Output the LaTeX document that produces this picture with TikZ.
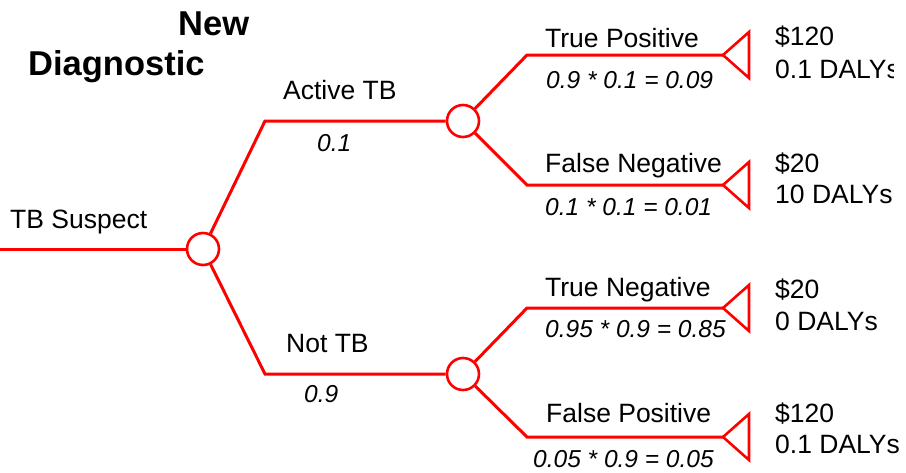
\documentclass[tikz,border=0pt]{standalone}
\usepackage{fontspec}
\setmainfont{Liberation Sans}
\begin{document}
\begin{tikzpicture}[x=1pt,y=-1pt,
  branch/.style={draw=red,line width=3pt,line join=miter},
  chance/.style={circle,draw=red,line width=2.6pt,fill=white,minimum size=32pt,inner sep=0pt},
  term/.style={draw=red,line width=2.6pt,line join=miter},
  lbl/.style={anchor=base west,inner sep=0pt,font=\fontsize{26.5}{30}\selectfont},
  prob/.style={anchor=base west,inner sep=0pt,font=\fontsize{24.5}{28}\selectfont\itshape},
  title/.style={anchor=base west,inner sep=0pt,font=\fontsize{34.5}{38}\selectfont\bfseries},
  outc/.style={anchor=base west,inner sep=0pt,font=\fontsize{26.5}{30}\selectfont}]
\useasboundingbox (0,0) rectangle (906,472);
% coordinates
\coordinate (start) at (0,249);
\coordinate (k1) at (265,121);
\coordinate (k2) at (265,374);
\coordinate (k3) at (527,55);
\coordinate (k4) at (527,185);
\coordinate (k5) at (527,308);
\coordinate (k6) at (527,437);
\coordinate (t1) at (723,55);
\coordinate (t2) at (723,185);
\coordinate (t3) at (723,308);
\coordinate (t4) at (723,437);
% branches
\draw[branch] (start) -- (203,249);
\node[chance] (c0) at (203,249) {};
\node[chance] (c1) at (463,121) {};
\node[chance] (c2) at (463,374) {};
\draw[branch] (c0) -- (k1) -- (c1);
\draw[branch] (c0) -- (k2) -- (c2);
\draw[branch] (c1) -- (k3) -- (t1);
\draw[branch] (c1) -- (k4) -- (t2);
\draw[branch] (c2) -- (k5) -- (t3);
\draw[branch] (c2) -- (k6) -- (t4);
% terminal triangles
\foreach \t in {t1,t2,t3,t4}{
  \draw[term] (\t) -- ++(26,-23) -- ++(0,46) -- cycle;
}
% titles
\node[title] (tnew) at (178,35) {New};
\node[title] (tdiag) at (28,75) {Diagnostic};
% labels
\node[lbl] (lsus) at (10,228) {TB Suspect};
\node[lbl] (lact) at (283,99) {Active TB};
\node[prob] (pact) at (317,151) {0.1};
\node[lbl] (lnot) at (286,352) {Not TB};
\node[prob] (pnot) at (304,402) {0.9};
\node[lbl] (ltp) at (545,47) {True Positive};
\node[prob] (ptp) at (546,88) {0.9 * 0.1 = 0.09};
\node[lbl] (lfn) at (545,172) {False Negative};
\node[prob] (pfn) at (545,215) {0.1 * 0.1 = 0.01};
\node[lbl] (ltn) at (545,296) {True Negative};
\node[prob] (ptn) at (545,337) {0.95 * 0.9 = 0.85};
\node[lbl] (lfp) at (546,422) {False Positive};
\node[prob] (pfp) at (533,467) {0.05 * 0.9 = 0.05};
% outcomes
\node[outc] (o1a) at (775,45) {\$120};
\begin{scope}
  \clip (760,50) rectangle (893,100);
  \node[outc] (o1b) at (775,78) {0.1 DALYs};
\end{scope}
\node[outc] (o2a) at (775,172) {\$20};
\node[outc] (o2b) at (775,203) {10 DALYs};
\node[outc] (o3a) at (775,298) {\$20};
\node[outc] (o3b) at (775,330) {0 DALYs};
\node[outc] (o4a) at (775,422) {\$120};
\node[outc] (o4b) at (775,453) {0.1 DALYs};
\end{tikzpicture}
\end{document}
